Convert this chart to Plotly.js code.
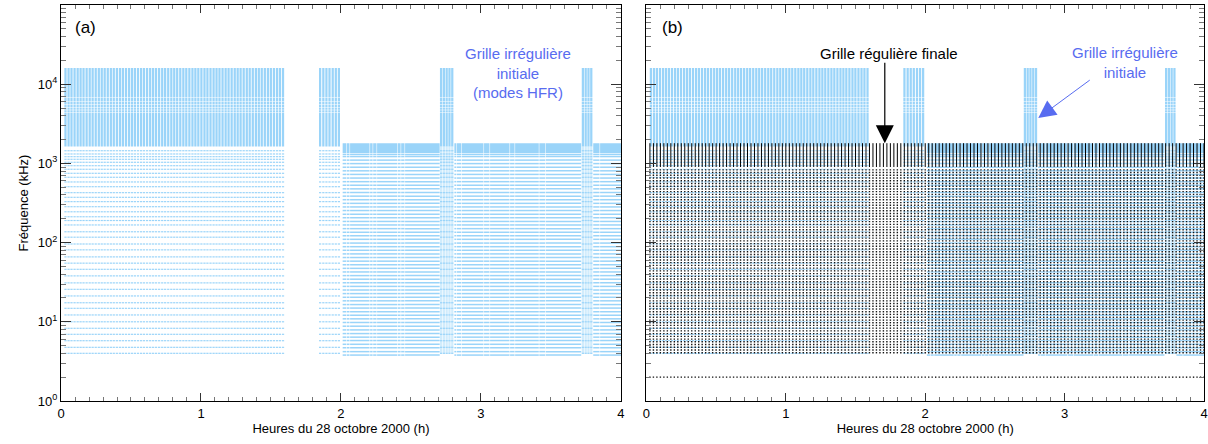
<!DOCTYPE html>
<html>
<head>
<meta charset="utf-8">
<script src="https://cdn.plot.ly/plotly-3.0.1.min.js"></script>
<style>html,body{margin:0;padding:0;background:#fff;}#chart{width:1208px;height:444px;}</style>
</head>
<body>
<div id="chart"></div>
<script>
// ---------- DATA ----------
// Irregular initial grid: HFR sweep start times (hours)
const hfrTimes = [
  0.024, 0.046, 0.067, 0.089, 0.111, 0.132, 0.153, 0.175, 0.197, 0.218, 0.240, 0.262, 0.283, 0.304, 0.326, 0.348,
  0.369, 0.391, 0.413, 0.434, 0.456, 0.478, 0.499, 0.520, 0.542, 0.564, 0.585, 0.607, 0.629, 0.650, 0.671, 0.693,
  0.715, 0.736, 0.758, 0.780, 0.801, 0.822, 0.844, 0.866, 0.887, 0.909, 0.931, 0.952, 0.973, 0.995, 1.017, 1.038,
  1.060, 1.082, 1.103, 1.124, 1.146, 1.168, 1.189, 1.211, 1.233, 1.254, 1.275, 1.297, 1.319, 1.340, 1.362, 1.384,
  1.405, 1.426, 1.448, 1.470, 1.491, 1.513, 1.535, 1.556, 1.578,
  1.843, 1.866, 1.888, 1.910, 1.933, 1.955, 1.977
];
// short HFR bursts inside the non-HFR interval (hours)
const hfrBurstTimes = [2.707, 2.727, 2.747, 2.767, 2.787, 3.720, 3.740, 3.760, 3.780];
const hfrSweepHours = 0.016;
// densely sampled HFR frequency ranges (kHz)
const hfrDenseBands = [[1640, 4330], [4400, 4690], [4760, 5070], [5150, 5540], [5620, 5950], [6030, 6800], [6880, 16000]];
const hfrBurstLowBand = [4, 1640];
// discrete HFR channels below (kHz)
const hfrChannels = [4.0, 4.76, 5.77, 6.95, 8.28, 10.0, 12.2, 14.8, 17.4, 21.2, 25.7, 31, 38, 46, 55, 66, 81, 96, 117, 137,
  167, 190, 212, 245, 284, 329, 373, 427, 508, 583, 668, 750, 843, 935, 1033, 1127, 1216, 1315, 1445];

// Irregular initial grid, non-HFR part: time cells [start, end] (hours)
const lfrCells = [[2.012, 2.037], [2.041, 2.061], [2.065, 2.204], [2.208, 2.226], [2.230, 2.254], [2.258, 2.401],
  [2.405, 2.426], [2.430, 2.454], [2.458, 2.705], [2.810, 2.823], [2.827, 2.859], [2.863, 3.018], [3.022, 3.061],
  [3.065, 3.204], [3.208, 3.240], [3.244, 3.413], [3.417, 3.459], [3.463, 3.716], [3.802, 3.847], [3.851, 4.0]];
const lfrDenseBand = [1350, 1800];
const lfrChannels = [3.8, 4.2, 4.7, 5.2, 5.8, 6.4, 7.1, 7.9, 8.8, 9.8, 10.9, 12.1, 13.4, 14.9, 16.5, 18.4, 20.4, 22.7,
  25.2, 28, 31.1, 34.5, 38.3, 42.6, 47.3, 52.5, 58.3, 64.8, 72, 80, 88.8, 98.6, 110, 122, 135, 150, 167, 185, 206, 228,
  254, 282, 313, 348, 386, 429, 477, 530, 588, 653, 726, 806, 895, 994, 1100, 1220, 1300];

// Regular final grid
const regTimes = [
  0.025, 0.05, 0.075, 0.1, 0.125, 0.15, 0.175, 0.2, 0.225, 0.25, 0.275, 0.3, 0.325, 0.35, 0.375, 0.4, 0.425, 0.45, 0.475, 0.5,
  0.525, 0.55, 0.575, 0.6, 0.625, 0.65, 0.675, 0.7, 0.725, 0.75, 0.775, 0.8, 0.825, 0.85, 0.875, 0.9, 0.925, 0.95, 0.975, 1.0,
  1.025, 1.05, 1.075, 1.1, 1.125, 1.15, 1.175, 1.2, 1.225, 1.25, 1.275, 1.3, 1.325, 1.35, 1.375, 1.4, 1.425, 1.45, 1.475, 1.5,
  1.525, 1.55, 1.575, 1.6, 1.625, 1.65, 1.675, 1.7, 1.725, 1.75, 1.775, 1.8, 1.825, 1.85, 1.875, 1.9, 1.925, 1.95, 1.975, 2.0,
  2.025, 2.05, 2.075, 2.1, 2.125, 2.15, 2.175, 2.2, 2.225, 2.25, 2.275, 2.3, 2.325, 2.35, 2.375, 2.4, 2.425, 2.45, 2.475, 2.5,
  2.525, 2.55, 2.575, 2.6, 2.625, 2.65, 2.675, 2.7, 2.725, 2.75, 2.775, 2.8, 2.825, 2.85, 2.875, 2.9, 2.925, 2.95, 2.975, 3.0,
  3.025, 3.05, 3.075, 3.1, 3.125, 3.15, 3.175, 3.2, 3.225, 3.25, 3.275, 3.3, 3.325, 3.35, 3.375, 3.4, 3.425, 3.45, 3.475, 3.5,
  3.525, 3.55, 3.575, 3.6, 3.625, 3.65, 3.675, 3.7, 3.725, 3.75, 3.775, 3.8, 3.825, 3.85, 3.875, 3.9, 3.925, 3.95, 3.975, 4.0
];
const regDenseBand = [900, 1800];
const regChannels = [2.0, 4.07, 4.41, 4.77, 5.16, 5.59, 6.05, 6.55, 7.09, 7.68, 8.31, 9.0, 9.74, 10.5, 11.4, 12.4, 13.4,
  14.5, 15.7, 17.0, 18.4, 19.9, 21.5, 23.3, 25.2, 27.3, 29.6, 32.0, 34.7, 37.5, 40.6, 44.0, 47.6, 51.5, 55.8, 60.4, 65.4,
  70.8, 76.6, 82.9, 89.8, 97.2, 105, 114, 123, 134, 145, 157, 170, 184, 199, 215, 233, 252, 273, 296, 320, 347, 375,
  406, 440, 476, 515, 558, 604, 654, 708, 766, 829];

const yTickVals = [1, 10, 100, 1000, 10000];
const yTickText = ['10<sup>0</sup>', '10<sup>1</sup>', '10<sup>2</sup>', '10<sup>3</sup>', '10<sup>4</sup>'];
const yMinorVals = [2,3,4,5,6,7,8,9,20,30,40,50,60,70,80,90,200,300,400,500,600,700,800,900,
  2000,3000,4000,5000,6000,7000,8000,9000,20000,30000,40000,50000,60000,70000,80000,90000];

// ---------- BUILD ----------
const BLUE = '#9ad4f9';
const PALEBLUE = 'rgba(154,212,249,0.45)';
const TXTBLUE = 'rgb(88,108,240)';
const hfrCells = hfrTimes.map(t => [t, t + hfrSweepHours]);
const burstCells = hfrBurstTimes.map(t => [t, t + hfrSweepHours]);

function rects(cells, bands) {
  const x = [], y = [];
  for (const [a, b] of cells) for (const [lo, hi] of bands) {
    x.push(a, b, b, a, a, null); y.push(lo, lo, hi, hi, lo, null);
  }
  return {x, y};
}
function dashes(cells, freqs) {
  const x = [], y = [];
  for (const [a, b] of cells) for (const f of freqs) { x.push(a, b, null); y.push(f, f, null); }
  return {x, y};
}
function verticals(times, band) {
  const x = [], y = [];
  for (const t of times) { x.push(t, t, null); y.push(band[0], band[1], null); }
  return {x, y};
}
function points(times, freqs) {
  const x = [], y = [];
  for (const f of freqs) for (const t of times) { x.push(t); y.push(f); }
  return {x, y};
}

function fillTrace(r, xa, ya, color) {
  return {type: 'scatter', mode: 'lines', x: r.x, y: r.y, xaxis: xa, yaxis: ya, fill: 'toself', fillcolor: color, line: {width: 0, color: color}, hoverinfo: 'skip'};
}
function lineTrace(r, xa, ya, color, w) {
  return {type: 'scatter', mode: 'lines', x: r.x, y: r.y, xaxis: xa, yaxis: ya, line: {width: w, color: color}, hoverinfo: 'skip'};
}

function irregularTraces(xa, ya) {
  const allHfr = hfrCells.concat(burstCells);
  return [
    fillTrace(rects(allHfr, hfrDenseBands), xa, ya, BLUE),
    fillTrace(rects(burstCells, [hfrBurstLowBand]), xa, ya, PALEBLUE),
    fillTrace(rects(lfrCells, [lfrDenseBand]), xa, ya, BLUE),
    lineTrace(dashes(allHfr, hfrChannels), xa, ya, BLUE, 1.2),
    lineTrace(dashes(lfrCells, lfrChannels), xa, ya, BLUE, 1.5)
  ];
}

const v = verticals(regTimes, regDenseBand);
const p = points(regTimes, regChannels);
const data = [
  ...irregularTraces('x', 'y'),
  ...irregularTraces('x2', 'y2'),
  lineTrace(v, 'x2', 'y2', '#000', 1),
  {type: 'scatter', mode: 'markers', x: p.x, y: p.y, xaxis: 'x2', yaxis: 'y2', marker: {symbol: 'square', size: 1.4, color: '#111', line: {width: 0}}, hoverinfo: 'skip'}
];

const FONT = 'Liberation Sans, Arial, Helvetica, sans-serif';
function xAxis(domain, anchor) {
  return {
    domain, anchor, range: [0, 4], tick0: 0, dtick: 1, ticks: 'inside', ticklen: 8, tickwidth: 1, tickcolor: '#333',
    showline: true, linecolor: '#000', linewidth: 1, mirror: 'ticks', showgrid: false, zeroline: false,
    ticklabeloverflow: 'allow',
    tickfont: {size: 13, family: FONT, color: '#000'},
    minor: {dtick: 0.1, ticks: 'inside', ticklen: 4, tickwidth: 1, tickcolor: '#777', showgrid: false},
    title: {text: 'Heures du 28 octobre 2000 (h)', font: {size: 13, family: FONT, color: '#000'}, standoff: 4}
  };
}
function yAxis(anchor, labels) {
  const ax = {
    anchor, type: 'log', range: [0, 5], tickmode: 'array', tickvals: yTickVals, ticktext: yTickText,
    ticks: 'inside', ticklen: 10, tickwidth: 1, tickcolor: '#333', showline: true, linecolor: '#000', linewidth: 1,
    mirror: 'ticks', showgrid: false, zeroline: false, showticklabels: labels,
    tickfont: {size: 13, family: FONT, color: '#000'},
    minor: {tickmode: 'array', tickvals: yMinorVals, ticks: 'inside', ticklen: 5, tickwidth: 1, tickcolor: '#777', showgrid: false}
  };
  if (labels) ax.title = {text: 'Fréquence (kHz)', font: {size: 13, family: FONT, color: '#000'}, standoff: 6};
  return ax;
}

const layout = {
  width: 1208, height: 444,
  margin: {l: 61, r: 4, t: 5, b: 43},
  paper_bgcolor: '#fff', plot_bgcolor: '#fff', showlegend: false, hovermode: false,
  font: {family: FONT, size: 13, color: '#000'},
  xaxis: xAxis([0, 0.4899], 'y'),
  yaxis: yAxis('x', true),
  xaxis2: xAxis([0.5122, 1], 'y2'),
  yaxis2: yAxis('x2', false),
  annotations: [
    {xref: 'x', yref: 'y', x: 0.085, y: 4.72, xanchor: 'left', text: '(a)', showarrow: false, font: {size: 17, family: FONT, color: '#000'}},
    {xref: 'x', yref: 'y', x: 3.264, y: 4.141, text: 'Grille irrégulière<br>initiale<br>(modes HFR)', showarrow: false, align: 'center', font: {size: 15, family: FONT, color: TXTBLUE}},
    {xref: 'x2', yref: 'y2', x: 0.096, y: 4.72, xanchor: 'left', text: '(b)', showarrow: false, font: {size: 17, family: FONT, color: '#000'}},
    {xref: 'x2', yref: 'y2', x: 1.739, y: 4.394, text: 'Grille régulière finale', showarrow: false, font: {size: 15, family: FONT, color: '#000'}},
    {xref: 'x2', yref: 'y2', x: 1.71, y: Math.log10(1800), text: '', showarrow: true, ax: 0, ay: -82, arrowhead: 2, arrowsize: 3, arrowwidth: 1.2, arrowcolor: '#000', standoff: 0},
    {xref: 'x2', yref: 'y2', x: 3.432, y: 4.268, text: 'Grille irrégulière<br>initiale', showarrow: false, align: 'center', font: {size: 15, family: FONT, color: TXTBLUE}},
    {xref: 'x2', yref: 'y2', x: 2.811, y: 3.573, text: '', showarrow: true, ax: 53, ay: -39, arrowhead: 2, arrowsize: 3.5, arrowwidth: 1, arrowcolor: TXTBLUE, standoff: 0}
  ]
};

Plotly.newPlot('chart', data, layout, {staticPlot: true, displayModeBar: false});
</script>
</body>
</html>
